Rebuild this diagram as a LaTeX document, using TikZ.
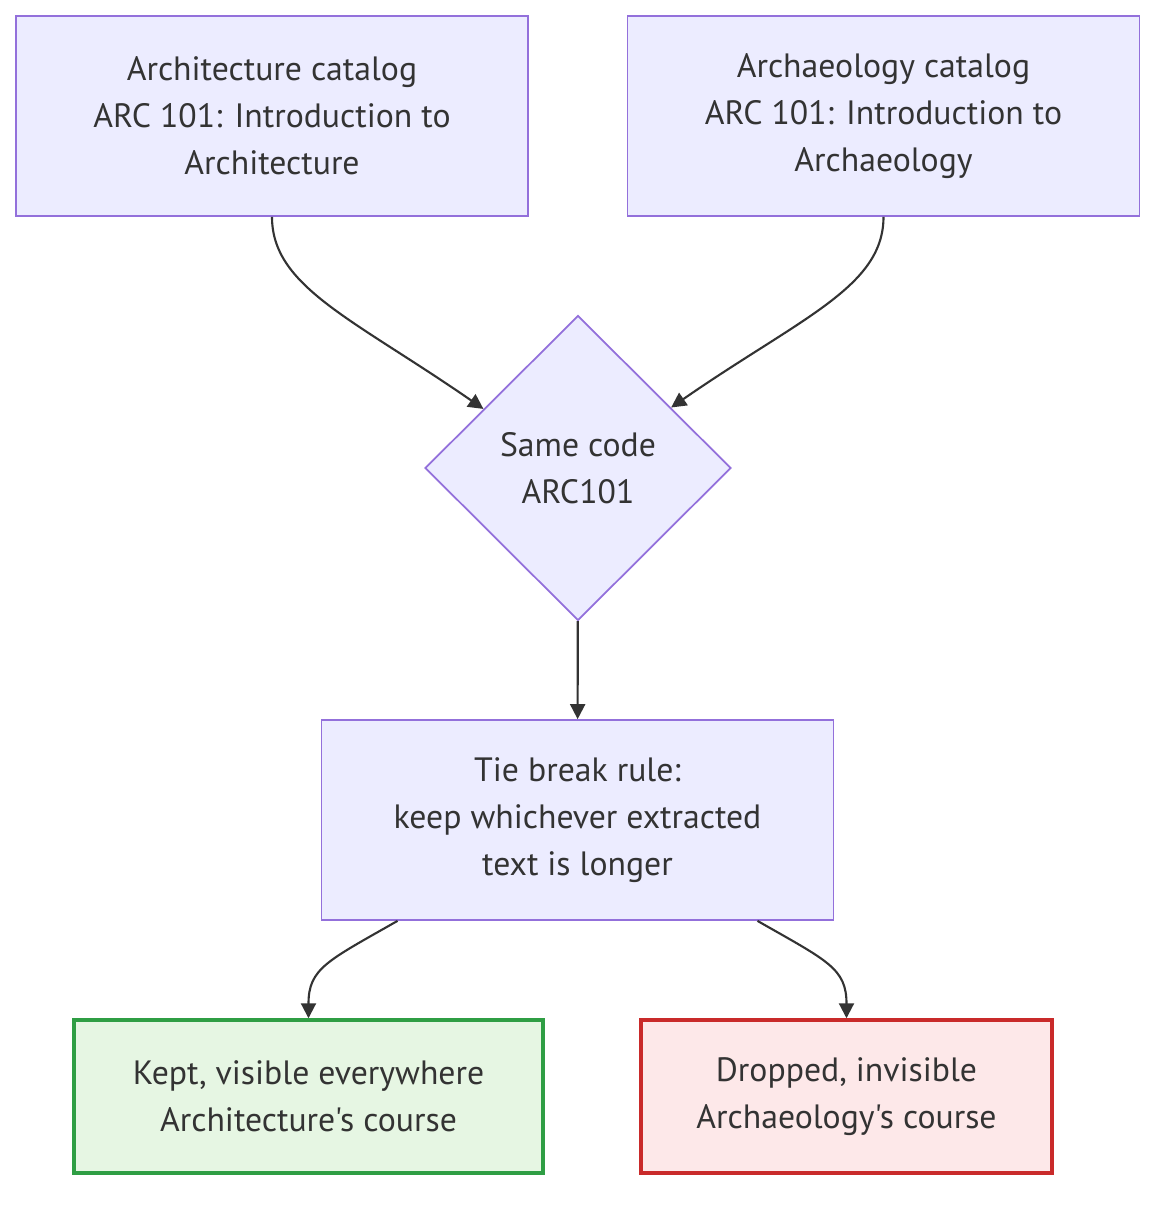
\documentclass[tikz,border=0pt]{standalone}
\usepackage{fontspec}
\setmainfont{PT Sans}[Ligatures=TeXOff]
\usetikzlibrary{shapes.geometric, arrows.meta}
\definecolor{nodefill}{HTML}{ECECFF}
\definecolor{nodeline}{HTML}{9370DB}
\definecolor{keptfill}{HTML}{E6F6E3}
\definecolor{keptline}{HTML}{2F9E44}
\definecolor{dropfill}{HTML}{FDE8E9}
\definecolor{dropline}{HTML}{C92A2A}
\definecolor{inkgray}{HTML}{333333}

\begin{document}
\begin{tikzpicture}[
    x=0.02cm, y=-0.02cm,
    font=\fontsize{19.2}{26.7}\selectfont, text=inkgray,
    catalog/.style={rectangle, minimum width=10.24cm, minimum height=4cm, align=center, draw=nodeline, fill=nodefill, line width=1pt},
    check/.style={diamond, aspect=1, inner sep=0pt, minimum width=6.12cm, minimum height=6.1cm, align=center, draw=nodeline, fill=nodefill, line width=1pt},
    kept/.style={rectangle, minimum width=9.38cm, minimum height=3.06cm, align=center, draw=keptline, fill=keptfill, line width=2pt},
    dropped/.style={rectangle, minimum width=8.22cm, minimum height=3.06cm, align=center, draw=dropline, fill=dropfill, line width=2pt},
    flow/.style={draw=inkgray, line width=1.2pt, -{Triangle[length=0.3cm, width=0.3cm]}}
]
\useasboundingbox (0,0) rectangle (1172,1208);

\node (archi) [catalog] at (272,116) {Architecture catalog\\ARC 101: Introduction to\\Architecture};
\node (archae) [catalog] at (883.5,116) {Archaeology catalog\\ARC 101: Introduction to\\Archaeology};
\node (same) [check] at (578,468) {Same code\\ARC101};
\node (tie) [catalog] at (577.5,820) {Tie break rule:\\keep whichever extracted\\text is longer};
\node (keep) [kept] at (308.5,1096.5) {Kept, visible everywhere\\Architecture's course};
\node (drop) [dropped] at (846.5,1096.5) {Dropped, invisible\\Archaeology's course};

\draw [flow] (archi.south) .. controls +(0,70) and +(-130,-90) .. (same.148);
\draw [flow] (archae.south) .. controls +(0,70) and +(130,-90) .. (same.33);
\draw [flow] (same) -- (tie);
\draw [flow] ([xshift=-3.6cm]tie.south) .. controls +(-70,40) and +(0,-50) .. (keep.north);
\draw [flow] ([xshift=3.6cm]tie.south) .. controls +(70,40) and +(0,-50) .. (drop.north);

\end{tikzpicture}
\end{document}
